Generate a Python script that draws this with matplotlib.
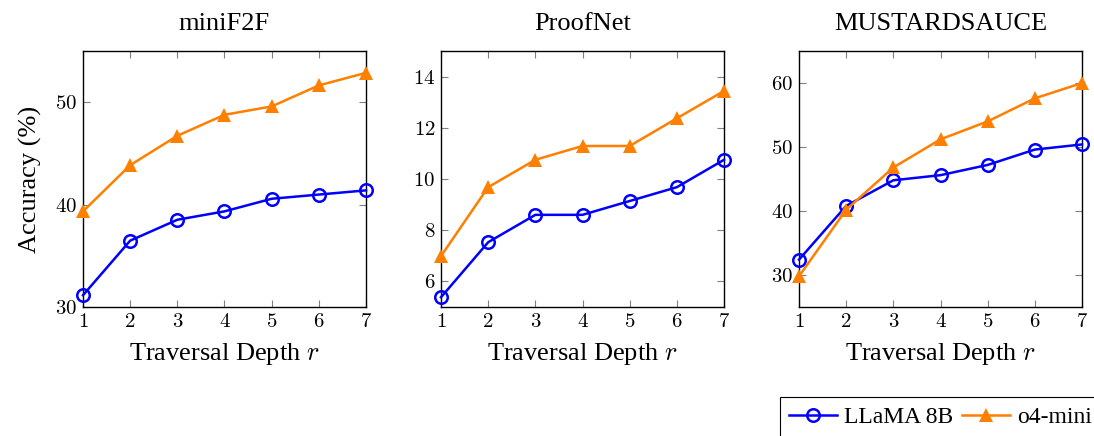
import matplotlib
matplotlib.use('Agg')
import matplotlib.pyplot as plt
from matplotlib.ticker import FuncFormatter, FixedLocator

plt.rcParams['font.family'] = ['Liberation Serif', 'DejaVu Serif']
plt.rcParams['mathtext.fontset'] = 'cm'

depth = [1, 2, 3, 4, 5, 6, 7]
titles = ['miniF2F', 'ProofNet', 'MUSTARDSAUCE']

llama_minif2f = [31.15, 36.48, 38.52, 39.34, 40.57, 40.98, 41.39]
o4_minif2f = [39.34, 43.85, 46.72, 48.77, 49.59, 51.64, 52.87]
llama_proofnet = [5.38, 7.53, 8.60, 8.60, 9.14, 9.68, 10.75]
o4_proofnet = [6.99, 9.68, 10.75, 11.29, 11.29, 12.37, 13.44]
llama_mustard = [32.4, 40.8, 44.8, 45.6, 47.2, 49.6, 50.4]
o4_mustard = [29.8, 40.2, 46.8, 51.2, 54.0, 57.6, 60.0]

ylims = [(30, 55), (5, 15), (25, 65)]
yticks = [[30, 40, 50], [6, 8, 10, 12, 14], [30, 40, 50, 60]]

llama = [llama_minif2f, llama_proofnet, llama_mustard]
o4 = [o4_minif2f, o4_proofnet, o4_mustard]

W, H = 1094, 436
fig = plt.figure(figsize=(W / 100, H / 100), dpi=100)

lefts = [83, 441, 799]
ax_w = 283
top, bottom = 51, 307

handles = None
for i in range(3):
    ax = fig.add_axes([lefts[i] / W, 1 - bottom / H, ax_w / W, (bottom - top) / H])
    l1, = ax.plot(depth, llama[i], color='#0000ff', lw=1.8, marker='o', markersize=9,
                  markerfacecolor='none', markeredgewidth=1.8, clip_on=False, zorder=3)
    l2, = ax.plot(depth, o4[i], color='#ff7f00', lw=1.8, marker='^', markersize=10,
                  markeredgewidth=0, clip_on=False, zorder=3)
    handles = [l1, l2]
    ax.set_xlim(1, 7)
    ax.set_ylim(*ylims[i])
    ax.xaxis.set_major_locator(FixedLocator(depth))
    ax.yaxis.set_major_locator(FixedLocator(yticks[i]))
    fmt = FuncFormatter(lambda v, p: '$%g$' % v)
    ax.xaxis.set_major_formatter(fmt)
    ax.yaxis.set_major_formatter(fmt)
    ax.tick_params(direction='in', length=5, width=0.8, color='0.5', labelcolor='black',
                   top=True, right=True, labelsize=15, pad=4)
    for s in ax.spines.values():
        s.set_linewidth(1.0)
    ax.set_title(titles[i], fontsize=19, pad=15)
    ax.set_xlabel('Traversal Depth $r$', fontsize=19, labelpad=7)
    if i == 0:
        ax.set_ylabel('Accuracy (%)', fontsize=19, labelpad=10)

leg = fig.legend(handles, ['LLaMA 8B', 'o4-mini'], loc='upper left',
                 bbox_to_anchor=(780 / W, 1 - 397 / H), ncol=2, fontsize=17,
                 frameon=True, fancybox=False, edgecolor='black', framealpha=1,
                 borderaxespad=0, handlelength=2.0, handletextpad=0.3,
                 columnspacing=0.4, borderpad=0.4)
leg.get_frame().set_linewidth(0.8)

fig.savefig('out.png', dpi=100)
